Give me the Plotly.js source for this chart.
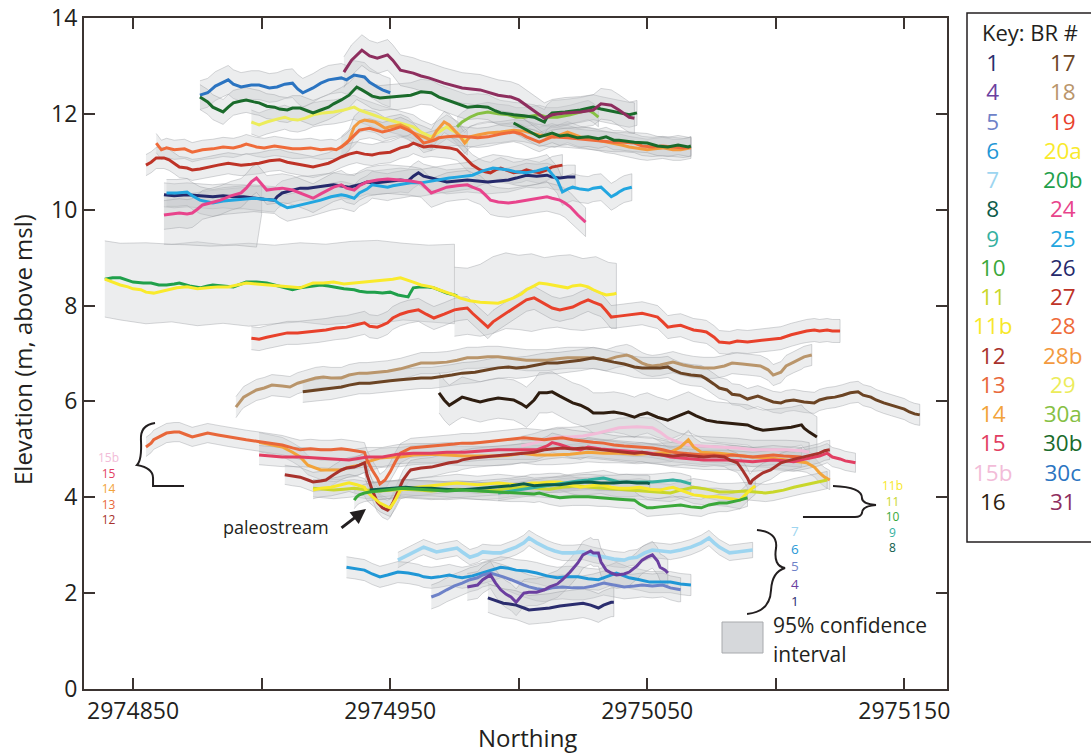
<!DOCTYPE html>
<html><head><meta charset="utf-8">
<script src="https://cdn.plot.ly/plotly-3.0.1.min.js"></script>
<style>html,body{margin:0;padding:0;background:#fff;}#chart{width:1091px;height:753px;}</style>
</head><body><div id="chart"></div>
<script>
// ---------------- DATA (Northing, Elevation m above msl) ----------------
const x31=[2974932,2974935,2974939,2974942,2974945,2974949,2974951,2974954,2974959,2974962,2974965,2974971,2974978,2974985,2974992,2974997,2975000,2975004,2975007,2975010,2975013,2975018,2975024,2975029,2975032,2975036,2975039,2975043,2975045];
const y31=[12.87,13.12,13.33,13.21,13.16,13.23,13.12,12.91,12.85,12.79,12.75,12.64,12.54,12.50,12.39,12.35,12.29,12.14,12.02,11.91,11.98,12.02,12.04,12.08,12.21,12.18,12.08,11.93,11.91];
const x30c=[2974876,2974879,2974882,2974887,2974889,2974892,2974896,2974899,2974903,2974906,2974909,2974912,2974914,2974916,2974920,2974923,2974926,2974931,2974933,2974936,2974940,2974942,2974945,2974947,2974950];
const y30c=[12.39,12.44,12.58,12.71,12.62,12.56,12.60,12.60,12.54,12.56,12.62,12.64,12.52,12.44,12.54,12.64,12.71,12.75,12.71,12.81,12.77,12.66,12.56,12.50,12.44];
const x30b=[2974876,2974879,2974881,2974885,2974887,2974889,2974892,2974894,2974897,2974899,2974902,2974905,2974907,2974910,2974912,2974915,2974918,2974920,2974923,2974926,2974928,2974931,2974934,2974937,2974939,2974941,2974943,2974946,2974950,2974953,2974958,2974962,2974966,2974969,2974972,2974976,2974980,2974984,2974988,2974991,2974993,2974996,2974998,2975002,2975006,2975010,2975011,2975013,2975018,2975024,2975027,2975029,2975032,2975034,2975039,2975043,2975046];
const y30b=[12.35,12.25,12.14,12.04,12.14,12.23,12.27,12.29,12.25,12.23,12.16,12.14,12.10,12.08,12.12,12.12,12.06,12.02,12.08,12.14,12.21,12.29,12.39,12.56,12.50,12.44,12.37,12.33,12.35,12.35,12.39,12.46,12.44,12.35,12.29,12.21,12.14,12.16,12.14,12.06,12.02,12.00,11.98,11.96,11.93,11.83,11.93,12.02,12.04,12.08,12.12,12.14,12.10,12.08,12.02,11.98,12.02];
const x30b2=[2974998,2975001,2975003,2975006,2975008,2975011,2975013,2975016,2975019,2975023,2975027,2975031,2975034,2975037,2975039,2975045,2975050,2975054,2975058,2975062,2975066,2975067];
const y30b2=[11.81,11.73,11.66,11.58,11.52,11.56,11.60,11.54,11.56,11.50,11.52,11.48,11.52,11.45,11.45,11.41,11.39,11.33,11.31,11.35,11.31,11.33];
const x30a=[2974976,2974978,2974981,2974984,2974988,2974992,2974996,2974999,2975002,2975005,2975008,2975011,2975015,2975018,2975020,2975024,2975027,2975029,2975031];
const y30a=[11.73,11.83,11.93,12.00,12.04,12.00,11.98,11.93,11.93,11.96,11.98,11.93,11.93,11.96,11.98,12.04,12.08,12.02,11.93];
const x29=[2974896,2974899,2974900,2974902,2974906,2974909,2974911,2974914,2974917,2974920,2974924,2974928,2974932,2974936,2974938,2974941,2974944,2974947,2974951,2974954,2974957,2974959,2974962,2974966,2974969,2974972,2974974,2974976,2974978,2974980];
const y29=[11.83,11.77,11.79,11.83,11.89,11.93,11.89,11.87,11.91,11.98,12.02,12.04,12.08,12.14,12.08,12.02,11.96,11.91,11.85,11.81,11.77,11.73,11.62,11.52,11.62,11.73,11.66,11.60,11.50,11.39];
const x28b=[2974931,2974934,2974936,2974938,2974940,2974942,2974944,2974946,2974948,2974950,2974954,2974957,2974959,2974963,2974966,2974968,2974971,2974973,2974975,2974977,2974979,2974981,2974984,2974988,2974993,2974998,2975002,2975005,2975008,2975014,2975019,2975024,2975028,2975031,2975034,2975037,2975040,2975043,2975047,2975050,2975053,2975056,2975060,2975063,2975067];
const y28b=[11.31,11.45,11.73,11.83,11.87,11.85,11.83,11.77,11.70,11.73,11.77,11.70,11.60,11.52,11.45,11.64,11.83,11.77,11.66,11.54,11.39,11.52,11.56,11.60,11.62,11.66,11.64,11.60,11.56,11.52,11.62,11.52,11.48,11.45,11.41,11.39,11.35,11.31,11.27,11.25,11.27,11.29,11.25,11.25,11.29];
const x28=[2974859,2974861,2974863,2974866,2974870,2974873,2974877,2974881,2974885,2974889,2974892,2974894,2974898,2974901,2974905,2974908,2974912,2974915,2974919,2974923,2974927,2974929,2974931,2974933,2974936,2974938,2974942,2974945,2974947,2974950,2974954,2974957,2974959,2974961,2974963,2974967,2974969,2974972,2974976,2974980,2974984,2974988,2974993,2974998,2975001,2975003,2975006,2975008,2975011,2975013,2975019,2975023,2975027,2975032,2975037,2975041,2975045,2975048,2975052,2975056,2975060,2975064,2975067];
const y28=[11.39,11.25,11.29,11.25,11.27,11.20,11.25,11.27,11.31,11.29,11.33,11.37,11.31,11.29,11.33,11.31,11.27,11.27,11.29,11.25,11.27,11.25,11.31,11.39,11.54,11.66,11.70,11.66,11.62,11.66,11.73,11.66,11.60,11.50,11.39,11.45,11.50,11.52,11.54,11.52,11.50,11.52,11.58,11.62,11.58,11.52,11.45,11.41,11.48,11.52,11.50,11.48,11.45,11.43,11.41,11.41,11.39,11.33,11.31,11.33,11.31,11.29,11.31];
const x27=[2974855,2974857,2974859,2974862,2974864,2974866,2974868,2974871,2974873,2974876,2974879,2974883,2974887,2974889,2974892,2974896,2974899,2974903,2974907,2974910,2974912,2974916,2974920,2974923,2974926,2974928,2974931,2974934,2974937,2974940,2974943,2974946,2974950,2974954,2974957,2974959,2974961,2974963,2974966,2974969,2974973,2974976,2974978,2974980,2974982,2974985,2974987,2974989,2974991,2974993,2974996,2974998,2975001,2975003,2975006,2975008,2975011,2975013,2975017];
const y27=[10.93,10.99,11.08,11.08,11.04,10.97,10.89,10.87,10.83,10.85,10.89,10.93,10.97,10.95,10.93,10.95,10.97,11.02,11.04,10.99,10.97,10.93,10.89,10.93,10.97,11.02,11.10,11.16,11.20,11.16,11.14,11.18,11.20,11.29,11.33,11.39,11.35,11.31,11.33,11.31,11.29,11.25,11.14,11.04,10.93,10.83,10.79,10.77,10.83,10.87,10.81,10.77,10.79,10.83,10.79,10.77,10.83,10.89,10.93];
const x26=[2974862,2974866,2974871,2974876,2974881,2974885,2974889,2974893,2974897,2974901,2974905,2974906,2974908,2974912,2974915,2974918,2974922,2974925,2974928,2974931,2974934,2974938,2974941,2974944,2974947,2974951,2974954,2974957,2974959,2974961,2974963,2974966,2974969,2974972,2974976,2974980,2974984,2974988,2974992,2974996,2974999,2975003,2975007,2975011,2975013,2975016,2975019,2975022];
const y26=[10.31,10.29,10.31,10.29,10.27,10.29,10.27,10.27,10.24,10.22,10.20,10.27,10.35,10.41,10.45,10.45,10.47,10.50,10.52,10.50,10.47,10.52,10.58,10.56,10.58,10.60,10.62,10.60,10.70,10.77,10.70,10.66,10.62,10.58,10.60,10.62,10.60,10.58,10.60,10.62,10.66,10.72,10.70,10.72,10.68,10.66,10.68,10.68];
const x25=[2974863,2974867,2974871,2974873,2974876,2974879,2974881,2974885,2974889,2974893,2974897,2974901,2974905,2974907,2974910,2974912,2974915,2974919,2974923,2974927,2974931,2974933,2974936,2974938,2974941,2974943,2974946,2974949,2974951,2974954,2974958,2974962,2974966,2974969,2974973,2974976,2974979,2974982,2974986,2974990,2974993,2974996,2974999,2975003,2975007,2975011,2975013,2975015,2975017,2975019,2975021,2975024,2975027,2975029,2975032,2975034,2975036,2975038,2975039,2975041,2975044];
const y25=[10.35,10.35,10.37,10.29,10.20,10.16,10.14,10.18,10.20,10.22,10.24,10.22,10.20,10.12,10.04,10.06,10.10,10.14,10.20,10.27,10.31,10.29,10.24,10.35,10.43,10.52,10.50,10.47,10.50,10.52,10.56,10.56,10.60,10.62,10.66,10.68,10.70,10.72,10.81,10.87,10.85,10.83,10.79,10.77,10.81,10.87,10.74,10.62,10.37,10.43,10.47,10.43,10.41,10.45,10.47,10.37,10.27,10.33,10.37,10.43,10.47];
const x24=[2974862,2974865,2974868,2974871,2974873,2974875,2974877,2974880,2974884,2974888,2974892,2974894,2974896,2974898,2974900,2974902,2974905,2974908,2974912,2974915,2974918,2974920,2974923,2974926,2974928,2974931,2974933,2974936,2974938,2974941,2974945,2974949,2974954,2974958,2974962,2974964,2974966,2974969,2974972,2974976,2974980,2974982,2974985,2974987,2974989,2974992,2974996,2974999,2975003,2975007,2975011,2975013,2975016,2975018,2975020,2975023,2975025,2975026];
const y24=[9.89,9.91,9.93,9.91,9.93,10.01,10.10,10.14,10.20,10.29,10.35,10.45,10.58,10.66,10.54,10.41,10.43,10.45,10.41,10.35,10.29,10.24,10.33,10.41,10.47,10.52,10.45,10.41,10.50,10.58,10.62,10.64,10.62,10.60,10.56,10.45,10.35,10.41,10.47,10.50,10.52,10.47,10.41,10.31,10.20,10.16,10.14,10.16,10.20,10.24,10.27,10.24,10.20,10.14,10.06,9.89,9.79,9.74];
const x20a=[2974839,2974841,2974842,2974845,2974848,2974850,2974853,2974855,2974858,2974861,2974863,2974867,2974871,2974875,2974879,2974883,2974887,2974891,2974894,2974898,2974902,2974906,2974910,2974912,2974915,2974918,2974920,2974924,2974928,2974932,2974936,2974938,2974941,2974944,2974947,2974951,2974954,2974957,2974959,2974962,2974966,2974969,2974972,2974975,2974977,2974981,2974985,2974989,2974992,2974995,2974998,2975001,2975003,2975006,2975008,2975011,2975013,2975016,2975019,2975021,2975024,2975027,2975029,2975032,2975034,2975037,2975038];
const y20a=[8.55,8.51,8.49,8.43,8.39,8.35,8.33,8.28,8.26,8.30,8.33,8.37,8.39,8.35,8.37,8.39,8.39,8.43,8.47,8.45,8.43,8.41,8.39,8.37,8.37,8.43,8.47,8.47,8.49,8.45,8.47,8.47,8.49,8.51,8.53,8.55,8.58,8.53,8.49,8.43,8.39,8.33,8.28,8.22,8.16,8.10,8.07,8.05,8.05,8.10,8.16,8.24,8.33,8.41,8.47,8.45,8.43,8.39,8.37,8.41,8.43,8.39,8.33,8.26,8.22,8.24,8.26];
const x20b=[2974839,2974842,2974845,2974848,2974850,2974854,2974857,2974860,2974863,2974866,2974868,2974872,2974876,2974879,2974881,2974885,2974889,2974892,2974894,2974898,2974902,2974905,2974908,2974910,2974912,2974915,2974918,2974920,2974923,2974926,2974928,2974932,2974936,2974938,2974941,2974944,2974947,2974950,2974953,2974955,2974957,2974958,2974959,2974962,2974964,2974967,2974969,2974972,2974975,2974976];
const y20b=[8.55,8.58,8.58,8.53,8.49,8.47,8.47,8.43,8.43,8.45,8.47,8.41,8.37,8.41,8.43,8.41,8.39,8.45,8.49,8.49,8.47,8.43,8.39,8.35,8.33,8.37,8.39,8.41,8.43,8.41,8.39,8.35,8.33,8.30,8.28,8.28,8.26,8.28,8.22,8.20,8.18,8.28,8.37,8.39,8.39,8.37,8.33,8.26,8.22,8.20];
const x19=[2974896,2974899,2974902,2974906,2974910,2974914,2974918,2974922,2974925,2974929,2974933,2974936,2974940,2974942,2974945,2974947,2974949,2974951,2974954,2974957,2974961,2974964,2974967,2974971,2974975,2974977,2974980,2974982,2974985,2974988,2974990,2974993,2974997,2975001,2975003,2975006,2975008,2975011,2975013,2975016,2975019,2975021,2975024,2975027,2975029,2975032,2975034,2975036,2975039,2975042,2975045,2975048,2975051,2975054,2975056,2975058,2975060,2975063,2975066,2975068,2975071,2975073,2975076,2975078,2975082,2975085,2975089,2975092,2975095,2975099,2975102,2975106,2975110,2975112,2975115,2975117,2975120,2975122,2975125];
const y19=[7.32,7.30,7.34,7.39,7.43,7.43,7.45,7.47,7.49,7.53,7.55,7.59,7.64,7.57,7.55,7.59,7.64,7.74,7.82,7.87,7.91,7.82,7.74,7.82,7.91,7.93,7.95,7.84,7.70,7.55,7.66,7.76,7.91,8.05,8.12,8.16,8.10,8.01,7.95,7.91,7.95,7.97,8.05,8.12,8.07,8.01,7.89,7.76,7.78,7.80,7.82,7.84,7.80,7.76,7.66,7.55,7.57,7.59,7.53,7.49,7.47,7.45,7.34,7.24,7.22,7.26,7.24,7.26,7.28,7.30,7.32,7.39,7.45,7.47,7.49,7.47,7.49,7.47,7.47];
const x18=[2974890,2974892,2974893,2974896,2974898,2974901,2974904,2974908,2974911,2974914,2974918,2974921,2974924,2974927,2974931,2974934,2974938,2974941,2974945,2974949,2974954,2974958,2974962,2974967,2974972,2974976,2974980,2974984,2974988,2974992,2974996,2974999,2975003,2975007,2975011,2975015,2975019,2975023,2975027,2975031,2975034,2975038,2975042,2975044,2975046,2975048,2975050,2975052,2975055,2975058,2975060,2975064,2975068,2975072,2975076,2975080,2975083,2975087,2975091,2975094,2975097,2975099,2975102,2975104,2975107,2975110,2975111,2975114];
const y18=[5.88,6.03,6.09,6.18,6.24,6.28,6.34,6.32,6.30,6.38,6.45,6.49,6.51,6.49,6.49,6.55,6.59,6.59,6.61,6.63,6.68,6.74,6.80,6.80,6.82,6.86,6.91,6.91,6.93,6.93,6.91,6.89,6.86,6.86,6.86,6.89,6.91,6.91,6.91,6.89,6.86,6.93,6.97,6.93,6.86,6.80,6.76,6.74,6.76,6.80,6.82,6.76,6.72,6.70,6.70,6.74,6.80,6.78,6.76,6.74,6.66,6.55,6.61,6.74,6.82,6.89,6.93,6.97];
const x17=[2974916,2974919,2974923,2974927,2974931,2974934,2974938,2974942,2974946,2974950,2974954,2974958,2974962,2974966,2974969,2974974,2974978,2974983,2974988,2974992,2974996,2974999,2975003,2975007,2975011,2975015,2975019,2975024,2975029,2975033,2975037,2975041,2975045,2975048,2975052,2975055,2975058,2975060,2975063,2975067,2975071,2975073,2975076,2975078,2975081,2975083,2975086,2975089,2975093,2975097,2975099,2975102,2975104,2975107,2975111,2975115,2975117,2975120,2975123,2975126,2975129,2975132,2975134,2975137,2975139,2975142,2975145,2975147,2975150,2975152,2975154,2975156];
const y17=[6.20,6.22,6.24,6.26,6.30,6.34,6.38,6.38,6.41,6.43,6.45,6.47,6.49,6.49,6.51,6.55,6.59,6.61,6.66,6.70,6.72,6.70,6.72,6.76,6.80,6.80,6.82,6.86,6.91,6.86,6.82,6.78,6.72,6.70,6.70,6.70,6.72,6.66,6.59,6.55,6.53,6.47,6.36,6.28,6.24,6.15,6.13,6.05,6.11,6.03,5.99,5.97,6.01,6.03,5.99,5.97,6.03,6.07,6.09,6.13,6.18,6.20,6.13,6.09,6.03,5.97,5.92,5.88,5.84,5.78,5.74,5.72];
const x16=[2974969,2974971,2974973,2974976,2974978,2974982,2974985,2974988,2974992,2974995,2974998,2975001,2975003,2975006,2975008,2975011,2975013,2975016,2975019,2975021,2975024,2975027,2975029,2975033,2975037,2975041,2975045,2975047,2975050,2975054,2975058,2975062,2975066,2975069,2975073,2975077,2975081,2975085,2975089,2975092,2975095,2975099,2975102,2975106,2975110,2975111,2975113,2975116];
const y16=[6.18,6.03,5.92,6.03,6.09,6.03,5.99,6.03,6.07,6.05,6.03,5.95,5.88,6.03,6.18,6.18,6.20,6.11,6.03,5.97,5.92,5.84,5.76,5.76,5.78,5.74,5.67,5.72,5.76,5.67,5.61,5.70,5.78,5.70,5.61,5.57,5.55,5.53,5.51,5.44,5.40,5.42,5.44,5.46,5.51,5.44,5.36,5.26];
const x15b=[2975001,2975006,2975010,2975015,2975020,2975025,2975031,2975036,2975039,2975046,2975052,2975055,2975058,2975062,2975066,2975071,2975078,2975085,2975091,2975098,2975104,2975110,2975113];
const y15b=[5.07,5.13,5.20,5.26,5.26,5.28,5.34,5.40,5.45,5.47,5.45,5.36,5.24,5.15,5.09,5.07,5.05,5.03,4.99,4.99,4.99,4.97,4.94];
const x15=[2974899,2974903,2974908,2974915,2974922,2974928,2974934,2974941,2974947,2974953,2974959,2974966,2974972,2974979,2974985,2974992,2974997,2975002,2975007,2975011,2975013,2975016,2975020,2975024,2975027,2975032,2975037,2975041,2975046,2975050,2975055,2975059,2975063,2975068,2975072,2975076,2975081,2975086,2975091,2975095,2975099,2975103,2975107,2975110,2975114,2975117,2975120,2975122,2975125,2975127,2975129,2975131];
const y15=[4.88,4.86,4.84,4.84,4.82,4.80,4.78,4.84,4.84,4.90,4.92,4.92,4.94,4.94,4.97,4.99,4.99,4.99,4.99,5.07,5.14,5.10,5.03,4.99,5.05,5.01,4.99,4.97,4.95,4.93,4.89,4.84,4.82,4.80,4.78,4.78,4.78,4.76,4.74,4.76,4.78,4.76,4.74,4.78,4.82,4.86,4.92,4.84,4.80,4.76,4.74,4.72];
const x14=[2974899,2974903,2974908,2974912,2974915,2974918,2974920,2974923,2974927,2974931,2974934,2974938,2974941,2974946,2974951,2974954,2974959,2974966,2974972,2974979,2974985,2974992,2974997,2975001,2975007,2975013,2975020,2975027,2975033,2975039,2975046,2975052,2975059,2975063,2975066,2975068,2975071,2975078,2975085,2975091,2975098,2975104,2975110,2975112,2975115,2975117,2975119,2975121];
const y14=[5.15,5.11,5.05,4.94,4.84,4.67,4.63,4.57,4.57,4.57,4.63,4.67,4.74,4.82,4.84,4.84,4.88,4.90,4.88,4.86,4.86,4.86,4.88,4.92,4.88,4.88,4.90,4.94,4.92,4.92,4.90,4.92,4.94,5.05,5.20,5.05,4.94,4.92,4.88,4.84,4.82,4.78,4.74,4.72,4.63,4.51,4.42,4.36];
const x13=[2974855,2974857,2974858,2974861,2974863,2974866,2974868,2974871,2974873,2974876,2974879,2974883,2974887,2974891,2974894,2974898,2974901,2974905,2974908,2974912,2974915,2974919,2974923,2974927,2974931,2974934,2974937,2974940,2974941,2974943,2974945,2974946,2974948,2974950,2974952,2974954,2974958,2974963,2974967,2974971,2974975,2974978,2974982,2974986,2974990,2974994,2974998,2975002,2975006,2975010,2975013,2975017,2975021,2975025,2975029,2975033,2975037,2975041,2975045,2975048,2975052,2975056,2975060,2975064,2975068,2975072,2975076,2975080,2975083,2975087,2975091,2975095,2975099,2975103,2975107,2975110];
const y13=[5.05,5.13,5.20,5.28,5.34,5.36,5.36,5.30,5.26,5.30,5.34,5.30,5.26,5.22,5.20,5.17,5.15,5.11,5.09,5.03,4.99,5.01,4.99,4.99,5.01,4.99,4.97,4.94,4.78,4.57,4.40,4.28,4.36,4.53,4.74,4.92,5.03,5.05,5.07,5.09,5.11,5.13,5.13,5.15,5.17,5.20,5.22,5.24,5.22,5.20,5.22,5.24,5.20,5.17,5.15,5.13,5.09,5.07,5.05,5.05,5.03,4.99,4.94,4.92,4.90,4.88,4.88,4.86,4.88,4.86,4.84,4.86,4.88,4.86,4.84,4.84];
const x12=[2974909,2974912,2974915,2974918,2974920,2974923,2974925,2974928,2974931,2974933,2974936,2974938,2974940,2974941,2974943,2974945,2974947,2974949,2974950,2974951,2974953,2974955,2974957,2974958,2974962,2974966,2974969,2974973,2974976,2974978,2974982,2974986,2974990,2974994,2974998,2975002,2975006,2975010,2975013,2975017,2975021,2975025,2975029,2975033,2975037,2975041,2975045,2975048,2975052,2975056,2975060,2975064,2975068,2975072,2975076,2975080,2975082,2975085,2975087,2975089,2975090,2975091,2975093,2975095,2975098,2975102,2975106,2975111,2975114,2975117,2975119,2975121];
const y12=[4.47,4.44,4.42,4.36,4.32,4.34,4.36,4.47,4.57,4.61,4.63,4.67,4.72,4.47,4.15,3.90,3.78,3.73,3.78,3.88,4.11,4.36,4.51,4.57,4.61,4.63,4.67,4.72,4.74,4.78,4.82,4.84,4.86,4.88,4.90,4.92,4.94,4.99,5.01,5.03,5.01,5.03,5.01,4.99,4.97,4.94,4.92,4.94,4.90,4.88,4.86,4.88,4.86,4.84,4.86,4.84,4.78,4.72,4.57,4.40,4.28,4.36,4.44,4.51,4.57,4.72,4.78,4.84,4.88,4.92,4.97,4.99];
const x11b=[2974920,2974923,2974927,2974931,2974934,2974937,2974940,2974941,2974943,2974946,2974949,2974950,2974952,2974954,2974957,2974961,2974964,2974968,2974972,2974976,2974980,2974984,2974988,2974992,2974996,2974999,2975002,2975005,2975008,2975012,2975016,2975020,2975024,2975028,2975032,2975036,2975039,2975043,2975047,2975051,2975055,2975058,2975060,2975064,2975068,2975071,2975073,2975077,2975081,2975084,2975086,2975088,2975090,2975092];
const y11b=[4.15,4.19,4.21,4.26,4.30,4.26,4.21,4.11,4.01,3.88,3.80,3.78,3.94,4.15,4.19,4.21,4.24,4.26,4.28,4.30,4.28,4.26,4.28,4.30,4.28,4.26,4.26,4.30,4.30,4.32,4.32,4.26,4.21,4.24,4.26,4.21,4.19,4.19,4.21,4.17,4.15,4.19,4.21,4.13,4.05,4.03,4.01,4.01,3.99,3.96,3.94,4.05,4.15,4.24];
const x11=[2974920,2974924,2974928,2974932,2974936,2974941,2974946,2974951,2974956,2974961,2974966,2974971,2974976,2974981,2974986,2974992,2974997,2975002,2975007,2975012,2975017,2975023,2975028,2975033,2975038,2975043,2975048,2975054,2975059,2975063,2975068,2975073,2975078,2975083,2975088,2975092,2975096,2975099,2975103,2975107,2975111,2975115,2975117,2975120];
const y11=[4.19,4.17,4.15,4.17,4.19,4.15,4.13,4.15,4.17,4.15,4.13,4.15,4.17,4.15,4.13,4.15,4.19,4.21,4.19,4.17,4.21,4.24,4.21,4.19,4.17,4.15,4.13,4.11,4.09,4.15,4.21,4.17,4.11,4.11,4.13,4.11,4.09,4.11,4.15,4.21,4.26,4.30,4.32,4.36];
const x10=[2974936,2974937,2974938,2974940,2974942,2974945,2974947,2974951,2974955,2974961,2974966,2974972,2974978,2974985,2974992,2974997,2975002,2975006,2975008,2975012,2975016,2975021,2975027,2975031,2975034,2975039,2975045,2975047,2975050,2975052,2975055,2975059,2975063,2975067,2975071,2975074,2975078,2975081,2975083,2975086,2975089];
const y10=[3.94,4.01,4.05,4.09,4.11,4.13,4.15,4.17,4.19,4.17,4.15,4.13,4.15,4.13,4.11,4.09,4.09,4.07,4.09,4.03,3.99,4.01,4.01,3.99,3.99,3.96,3.94,3.86,3.78,3.78,3.80,3.82,3.84,3.80,3.78,3.84,3.88,3.88,3.90,3.94,3.99];
const x9=[2974992,2974997,2975002,2975007,2975012,2975017,2975023,2975027,2975031,2975033,2975036,2975039,2975045,2975050,2975052,2975056,2975060,2975063,2975066,2975067];
const y9=[4.09,4.13,4.17,4.21,4.26,4.30,4.34,4.36,4.38,4.40,4.36,4.32,4.32,4.32,4.32,4.34,4.36,4.34,4.30,4.28];
const x8=[2974942,2974946,2974951,2974956,2974961,2974966,2974971,2974976,2974981,2974986,2974992,2974997,2975002,2975006,2975011,2975016,2975021,2975027,2975032,2975037,2975042,2975046,2975050,2975051];
const y8=[4.15,4.17,4.19,4.21,4.19,4.19,4.17,4.15,4.17,4.19,4.21,4.24,4.28,4.24,4.26,4.26,4.30,4.32,4.30,4.30,4.32,4.30,4.30,4.28];
const x7=[2974953,2974956,2974959,2974961,2974963,2974966,2974968,2974972,2974976,2974978,2974981,2974984,2974986,2974990,2974993,2974996,2974999,2975002,2975004,2975007,2975011,2975014,2975017,2975021,2975025,2975029,2975033,2975037,2975041,2975043,2975046,2975049,2975052,2975056,2975059,2975063,2975067,2975071,2975074,2975076,2975078,2975080,2975082,2975085,2975088,2975091];
const y7=[2.69,2.77,2.86,2.92,2.96,2.90,2.86,2.90,2.94,2.86,2.75,2.80,2.86,2.84,2.84,2.90,2.96,3.05,3.15,3.05,2.94,2.88,2.84,2.84,2.86,2.80,2.75,2.71,2.69,2.73,2.75,2.84,2.90,2.88,2.86,2.90,2.96,3.05,3.15,3.05,2.96,2.90,2.84,2.86,2.88,2.90];
const x6=[2974933,2974936,2974940,2974943,2974946,2974949,2974953,2974957,2974961,2974963,2974966,2974969,2974973,2974976,2974978,2974982,2974986,2974990,2974993,2974996,2974999,2975003,2975007,2975011,2975015,2975019,2975023,2975027,2975031,2975034,2975038,2975041,2975043,2975047,2975051,2975055,2975059,2975063,2975066,2975067];
const y6=[2.54,2.52,2.48,2.40,2.34,2.38,2.44,2.42,2.38,2.34,2.32,2.34,2.38,2.34,2.32,2.36,2.42,2.48,2.54,2.52,2.48,2.46,2.42,2.36,2.32,2.34,2.34,2.30,2.28,2.34,2.42,2.36,2.32,2.28,2.23,2.23,2.23,2.19,2.17,2.17];
const x5=[2974966,2974969,2974972,2974975,2974978,2974981,2974984,2974986,2974989,2974992,2974994,2974997,2974999,2975002,2975004,2975007,2975010,2975013,2975017,2975021,2975025,2975029,2975033,2975037,2975041,2975045,2975048,2975052,2975056,2975059,2975062,2975063];
const y5=[1.92,1.98,2.07,2.15,2.21,2.28,2.32,2.38,2.42,2.38,2.34,2.28,2.23,2.17,2.13,2.09,2.07,2.11,2.13,2.11,2.11,2.15,2.21,2.17,2.13,2.15,2.17,2.15,2.17,2.11,2.07,2.07];
const x4=[2974980,2974982,2974984,2974986,2974989,2974991,2974993,2974995,2974997,2974999,2975002,2975004,2975007,2975010,2975012,2975015,2975017,2975020,2975023,2975025,2975027,2975028,2975029,2975031,2975032,2975034,2975036,2975038,2975041,2975043,2975046,2975048,2975050,2975052,2975054,2975055,2975057,2975058];
const y4=[2.13,2.15,2.17,2.28,2.38,2.21,2.07,1.98,1.92,1.81,2.00,2.02,2.02,2.07,2.13,2.19,2.28,2.44,2.63,2.80,2.86,2.88,2.84,2.84,2.65,2.48,2.42,2.38,2.40,2.44,2.57,2.69,2.75,2.80,2.67,2.54,2.48,2.42];
const x1=[2974988,2974990,2974994,2974997,2974999,2975002,2975004,2975008,2975012,2975016,2975020,2975023,2975025,2975028,2975031,2975033,2975036,2975037];
const y1=[1.90,1.86,1.79,1.77,1.75,1.69,1.65,1.67,1.69,1.73,1.75,1.77,1.79,1.75,1.69,1.75,1.81,1.81];

// wide confidence regions (upper / lower limits)
const bandAx=[2974839,2974845,2974855,2974865,2974875,2974885,2974895,2974905,2974915,2974925,2974935,2974945,2974955,2974965,2974975];
const bandAhi=[9.35,9.30,9.31,9.28,9.33,9.27,9.30,9.26,9.31,9.28,9.34,9.36,9.30,9.26,9.28];
const bandAlo=[7.76,7.70,7.62,7.66,7.58,7.63,7.57,7.62,7.66,7.60,7.64,7.62,7.70,7.66,7.62];
const bandBx=[2974975,2974980,2974985,2974990,2974995,2975000,2975005,2975010,2975015,2975020,2975025,2975030,2975035,2975038];
const bandBhi=[8.80,8.78,8.86,9.02,9.10,9.05,9.08,9.00,9.04,9.06,8.98,9.02,8.90,8.88];
const bandBlo=[7.36,7.40,7.36,7.42,7.52,7.50,7.46,7.52,7.55,7.50,7.48,7.52,7.55,7.52];
const bandCx=[2974862,2974870,2974880,2974890,2974898,2974900];
const bandChi=[10.30,10.32,10.40,10.45,10.50,10.50];
const bandClo=[9.28,9.27,9.24,9.26,9.22,9.90];

// key labels and group labels
const keyLeft=['1','4','5','6','7','8','9','10','11','11b','12','13','14','15','15b','16'];
const keyRight=['17','18','19','20a','20b','24','25','26','27','28','28b','29','30a','30b','30c','31'];
const groupLeft=['15b','15','14','13','12'];
const groupRight=['11b','11','10','9','8'];
const groupLow=['7','6','5','4','1'];
const xTickVals=[2974850,2974900,2974950,2975000,2975050,2975100,2975150];
const xTickText=['2974850','','2974950','','2975050','','2975150'];
const yTickVals=[0,2,4,6,8,10,12,14];

// ---------------- STYLE ----------------
const col={'1':'#2b2d6e','4':'#6b3fa0','5':'#6e82c8','6':'#1f97d6','7':'#9dd5f0','8':'#0d5c4a','9':'#35b0a0','10':'#3aa83a','11':'#c9d72b','11b':'#f7e82a','12':'#a8322c','13':'#e8673a','14':'#f2a33a','15':'#e23e62','15b':'#f2bcd8','16':'#2e1d10','17':'#6b4424','18':'#b9956b','19':'#e8412b','20a':'#f9ea2c','20b':'#1fa04b','24':'#e8448c','25':'#22a6e0','26':'#25296b','27':'#be3327','28':'#ef6b3a','28b':'#f39a3f','29':'#ecec5a','30a':'#86c043','30b':'#1a6b2b','30c':'#2b74c1','31':'#8e2e5e'};

const series=[
 {id:'18',x:x18,y:y18,ci:0.22},{id:'17',x:x17,y:y17,ci:0.22},{id:'16',x:x16,y:y16,ci:0.42},
 {id:'19',x:x19,y:y19,ci:0.24},{id:'20b',x:x20b,y:y20b,ci:0},{id:'20a',x:x20a,y:y20a,ci:0},
 {id:'29',x:x29,y:y29,ci:0.25},{id:'30a',x:x30a,y:y30a,ci:0.2},{id:'28b',x:x28b,y:y28b,ci:0.22},
 {id:'28',x:x28,y:y28,ci:0.2},{id:'27',x:x27,y:y27,ci:0.22},{id:'30b',x:x30b2,y:y30b2,ci:0.2},
 {id:'30c',x:x30c,y:y30c,ci:0.3},{id:'30b',x:x30b,y:y30b,ci:0.26},{id:'31',x:x31,y:y31,ci:0.32},
 {id:'26',x:x26,y:y26,ci:0.25},{id:'25',x:x25,y:y25,ci:0.28},{id:'24',x:x24,y:y24,ci:0.3},
 {id:'15b',x:x15b,y:y15b,ci:0.2},{id:'14',x:x14,y:y14,ci:0.2},{id:'13',x:x13,y:y13,ci:0.2},
 {id:'15',x:x15,y:y15,ci:0.2},{id:'12',x:x12,y:y12,ci:0.2},{id:'11',x:x11,y:y11,ci:0.18},
 {id:'11b',x:x11b,y:y11b,ci:0.18},{id:'9',x:x9,y:y9,ci:0.16},{id:'8',x:x8,y:y8,ci:0.16},
 {id:'10',x:x10,y:y10,ci:0.18},{id:'7',x:x7,y:y7,ci:0.16},{id:'6',x:x6,y:y6,ci:0.22},
 {id:'5',x:x5,y:y5,ci:0.25},{id:'4',x:x4,y:y4,ci:0.28},{id:'1',x:x1,y:y1,ci:0.3}
];

const BAND_FILL='rgba(196,198,202,0.32)';
const BAND_LINE='rgba(140,142,148,0.45)';
const FONT='"Open Sans", sans-serif';
const INK='#231f20';

const traces=[];
function bandTrace(xs,hi,lo){
  return {x:xs.concat(xs.slice().reverse()),y:hi.concat(lo.slice().reverse()),
    mode:'lines',fill:'toself',fillcolor:BAND_FILL,line:{color:BAND_LINE,width:0.8},hoverinfo:'skip',showlegend:false};
}
traces.push(bandTrace(bandAx,bandAhi,bandAlo));
traces.push(bandTrace(bandBx,bandBhi,bandBlo));
traces.push(bandTrace(bandCx,bandChi,bandClo));
series.forEach(s=>{
  if(s.ci>0){
    traces.push(bandTrace(s.x,s.y.map(v=>v+s.ci),s.y.map(v=>v-s.ci)));
  }
});
series.forEach(s=>{
  traces.push({x:s.x,y:s.y,mode:'lines',line:{color:col[s.id],width:s.id==='7'?3.6:3},hoverinfo:'skip',showlegend:false,name:s.id});
});

// ---------- layout helpers (pixel -> paper) ----------
const L=84,R=947,T=18,B=689;
const px=(x)=>(x-L)/(R-L), py=(y)=>(B-y)/(B-T);
function path(cmds){
  return cmds.map(c=>{let s=c[0];for(let i=1;i<c.length;i+=2){s+=' '+px(c[i]).toFixed(4)+','+py(c[i+1]).toFixed(4);}return s;}).join(' ');
}
const ann=[];
const txt=(x,y,t,size,color,opt)=>ann.push(Object.assign({xref:'paper',yref:'paper',x:px(x),y:py(y),text:t,showarrow:false,
  font:{family:FONT,size:size,color:color},xanchor:'center',yanchor:'middle',borderpad:0},opt||{}));
const stack=(labels)=>labels.map(l=>'<span style="color:'+col[l]+'">'+l+'</span>').join('<br>');

// axis titles
txt(527,737,'Northing',24,INK);
txt(22,350,'Elevation (m, above msl)',24,INK,{textangle:-90});
// key (two stacked columns, ~29 px row pitch)
txt(1030,32,'Key: BR #',22,INK);
txt(993,282,stack(keyLeft),22.5,INK);
txt(1063,282,stack(keyRight),22.5,INK);
// side label stacks
txt(108,488,stack(groupLeft),12,INK);
txt(892,516,stack(groupRight),12,INK);
txt(795,566,stack(groupLow),13.5,INK);
// paleostream
txt(276,527,'paleostream',18,INK);
ann.push({xref:'paper',yref:'paper',x:px(366),y:py(509),ax:-26,ay:20,text:'',showarrow:true,arrowhead:2,arrowsize:1,arrowwidth:3,arrowcolor:INK});
// CI legend
txt(772,625,'95% confidence',21,INK,{xanchor:'left'});
txt(772,654,'interval',21,INK,{xanchor:'left'});

const shapes=[
 {type:'rect',xref:'paper',yref:'paper',x0:px(967),x1:px(1100),y0:py(542),y1:py(13),line:{color:INK,width:1.5},fillcolor:'rgba(0,0,0,0)'},
 {type:'rect',xref:'paper',yref:'paper',x0:px(722),x1:px(763),y0:py(653),y1:py(622),line:{color:'#a8aaad',width:1},fillcolor:'#d6d8db'},
 {type:'path',xref:'paper',yref:'paper',line:{color:INK,width:2},path:path([['M',155,423],['Q',140,425,141,440],['Q',142,460,137,465],['Q',153,468,153,478],['L',153,486],['L',184,486]])},
 {type:'path',xref:'paper',yref:'paper',line:{color:INK,width:2},path:path([['M',833,486],['Q',862,487,862,498],['Q',862,504,876,505],['Q',862,506,862,513],['Q',861,517,855,517],['L',803,517]])},
 {type:'path',xref:'paper',yref:'paper',line:{color:INK,width:2},path:path([['M',757,530],['Q',778,532,776,548],['Q',773,566,785,568],['Q',772,572,771,590],['Q',770,612,747,614]])}
];

const axisCommon={showline:true,linecolor:'#3b3431',linewidth:2,mirror:'ticks',ticks:'inside',ticklen:11,tickwidth:2,tickcolor:'#3b3431',
  showgrid:false,zeroline:false,tickfont:{family:FONT,size:23,color:INK}};
const layout={
  width:1091,height:753,margin:{l:L,r:1091-R,t:T,b:753-B},
  paper_bgcolor:'#fff',plot_bgcolor:'#fff',showlegend:false,hovermode:false,
  xaxis:Object.assign({},axisCommon,{range:[2974830.9,2975166.6],tickmode:'array',tickvals:xTickVals,ticktext:xTickText}),
  yaxis:Object.assign({},axisCommon,{range:[0,14],tickmode:'array',tickvals:yTickVals}),
  annotations:ann,shapes:shapes
};
Plotly.newPlot('chart',traces,layout,{staticPlot:true,displayModeBar:false});
</script></body></html>
